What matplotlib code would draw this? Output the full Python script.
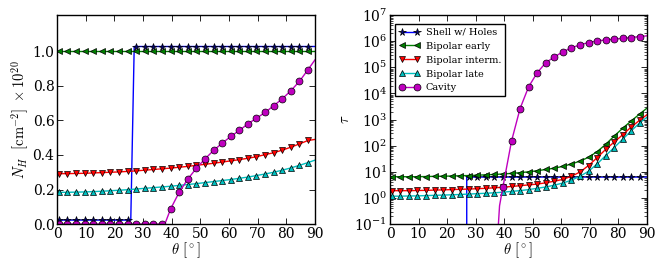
import numpy as np
import matplotlib
matplotlib.use("Agg")
from matplotlib import pyplot as plt
from matplotlib.ticker import LogLocator, NullFormatter

plt.rcParams['font.family'] = 'DejaVu Serif'
plt.rcParams['mathtext.fontset'] = 'cm'
plt.rcParams['xtick.direction'] = 'in'
plt.rcParams['ytick.direction'] = 'in'
plt.rcParams['xtick.top'] = True
plt.rcParams['ytick.right'] = True

# marker angles (deg), one every ~3 degrees
theta_m = 0.6 + 3 * np.arange(30)

# ---- column density N_H (1e20 cm^-2) ----
nh_shell = [0.023] * 9 + [1.028] * 21
nh_shell_x = [25.7, 26.9, 90]
nh_shell_y = [0.023, 1.028, 1.028]

nh_early = [1.0] * 30
nh_early_x = [90]
nh_early_y = [1.0]

nh_interm = [0.292, 0.292, 0.293, 0.294, 0.296, 0.298, 0.300, 0.302, 0.305, 0.308,
             0.312, 0.316, 0.320, 0.324, 0.329, 0.334, 0.340, 0.346, 0.352, 0.359,
             0.366, 0.373, 0.381, 0.390, 0.402, 0.413, 0.428, 0.445, 0.464, 0.484]
nh_interm_x = [90]
nh_interm_y = [0.49]

nh_late = [0.184, 0.184, 0.185, 0.186, 0.188, 0.190, 0.193, 0.196, 0.199, 0.203,
           0.207, 0.211, 0.215, 0.219, 0.224, 0.229, 0.234, 0.240, 0.246, 0.252,
           0.258, 0.265, 0.272, 0.281, 0.290, 0.300, 0.312, 0.325, 0.340, 0.356]
nh_late_x = [90]
nh_late_y = [0.37]

nh_cavity = [0] * 13 + [0.087, 0.184, 0.26, 0.323, 0.377, 0.426, 0.468, 0.507, 0.542,
                        0.58, 0.613, 0.646, 0.685, 0.725, 0.772, 0.826, 0.894]
nh_cavity_x = [37.6, 90]
nh_cavity_y = [0.0, 0.95]

# ---- optical depth tau ----
tau_shell = [0] * 9 + [6.3] * 21
tau_shell_x = [26.9, 90]
tau_shell_y = [6.3, 6.3]

tau_early = [6.5, 6.5, 6.5, 6.5, 6.6, 6.7, 6.8, 6.9, 7.1, 7.2,
             7.4, 7.7, 7.9, 8.3, 8.7, 9.3, 10, 11, 12.3, 13.8,
             16.2, 20, 25.7, 36, 59, 112, 234, 468, 891, 1660]
tau_early_x = [90]
tau_early_y = [2690]

tau_interm = [1.9, 1.9, 1.9, 1.93, 1.95, 2.0, 2.04, 2.09, 2.14, 2.19,
              2.26, 2.34, 2.45, 2.57, 2.75, 2.95, 3.16, 3.39, 3.8, 4.37,
              5.13, 6.76, 9.8, 17.4, 34.7, 72, 138, 263, 525, 955]
tau_interm_x = [90]
tau_interm_y = [1510]

tau_late = [1.17, 1.17, 1.19, 1.2, 1.23, 1.26, 1.29, 1.32, 1.36, 1.41,
            1.46, 1.51, 1.58, 1.66, 1.78, 1.91, 2.09, 2.34, 2.63, 3.09,
            3.72, 4.79, 6.76, 10.5, 20, 41.7, 85, 178, 372, 760]
tau_late_x = [90]
tau_late_y = [1200]

tau_cavity = [0] * 13 + [2.7, 150, 2650, 1.8e4, 6.2e4, 1.5e5, 2.5e5, 3.9e5, 5.6e5,
                         7.2e5, 8.9e5, 1.02e6, 1.12e6, 1.2e6, 1.29e6, 1.38e6, 1.51e6]
tau_cavity_x = [38.0, 38.4, 90]
tau_cavity_y = [0.1, 0.5, 1.6e6]

labels = ['Shell w/ Holes', 'Bipolar early', 'Bipolar interm.', 'Bipolar late', 'Cavity']
colors = ['#0000ff', '#008000', '#ff0000', '#00bfbf', '#bf00bf']
face = ['#000080', '#008000', '#ff0000', '#00bfbf', '#bf00bf']
markers = ['*', '<', 'v', '^', 'o']
msizes = [5.5, 5, 5, 5, 5]


def draw(ax, vals, xs, ys, i):
    x = np.concatenate([theta_m, xs])
    y = np.concatenate([np.asarray(vals, float), ys])
    ismark = np.concatenate([np.ones(len(theta_m), bool), np.zeros(len(xs), bool)])
    order = np.argsort(x, kind='stable')
    ax.plot(x[order], y[order], color=colors[i], lw=1.0, marker=markers[i],
            markevery=list(ismark[order]), ms=msizes[i], mfc=face[i], mec='k',
            mew=0.5, label=labels[i])


fig = plt.figure(figsize=(6.65, 2.69), dpi=100)
ax1 = fig.add_axes([0.086, 0.167, 0.3875, 0.777])
ax2 = fig.add_axes([0.5865, 0.167, 0.386, 0.777])

nh = [(nh_shell, nh_shell_x, nh_shell_y), (nh_early, nh_early_x, nh_early_y),
      (nh_interm, nh_interm_x, nh_interm_y), (nh_late, nh_late_x, nh_late_y),
      (nh_cavity, nh_cavity_x, nh_cavity_y)]
tau = [(tau_shell, tau_shell_x, tau_shell_y), (tau_early, tau_early_x, tau_early_y),
       (tau_interm, tau_interm_x, tau_interm_y), (tau_late, tau_late_x, tau_late_y),
       (tau_cavity, tau_cavity_x, tau_cavity_y)]

for i in range(5):
    draw(ax1, *nh[i], i)
    draw(ax2, *tau[i], i)

ax1.set_xlim(0, 90)
ax1.set_ylim(0, 1.21)
ax1.set_yticks([0.0, 0.2, 0.4, 0.6, 0.8, 1.0])
ax1.set_yticklabels(['0.0', '0.2', '0.4', '0.6', '0.8', '1.0'])
ax1.set_xlabel(r'$\theta\ [^\circ]$', fontsize=10.5, labelpad=0)
ax1.set_ylabel(r'$N_H\ \ [\mathrm{cm}^{-2}]\ \times 10^{20}$', fontsize=10.5, labelpad=1)

ax2.set_yscale('log', nonpositive='clip')
ax2.set_xlim(0, 90)
ax2.set_ylim(1e-1, 1e7)
ax2.yaxis.set_major_locator(LogLocator(base=10, numticks=20))
ax2.yaxis.set_minor_locator(LogLocator(base=10, subs=np.arange(2, 10), numticks=100))
ax2.yaxis.set_minor_formatter(NullFormatter())
ax2.set_xlabel(r'$\theta\ [^\circ]$', fontsize=10.5, labelpad=0)
ax2.set_ylabel(r'$\tau$', fontsize=10.5, labelpad=2)
ax2.legend(loc='upper left', fontsize=7, numpoints=2, fancybox=False,
           edgecolor='k', framealpha=1, borderaxespad=0.5, handlelength=2.2,
           labelspacing=0.5, borderpad=0.4, handletextpad=0.6,
           bbox_to_anchor=(0.0, 0.98))

for ax in (ax1, ax2):
    ax.set_xticks(range(0, 91, 10))
    ax.tick_params(labelsize=10, length=4, width=0.6, pad=2)
    ax.tick_params(which='minor', length=2, width=0.5)
    for s in ax.spines.values():
        s.set_linewidth(1.0)

fig.savefig('out.png', dpi=100)
